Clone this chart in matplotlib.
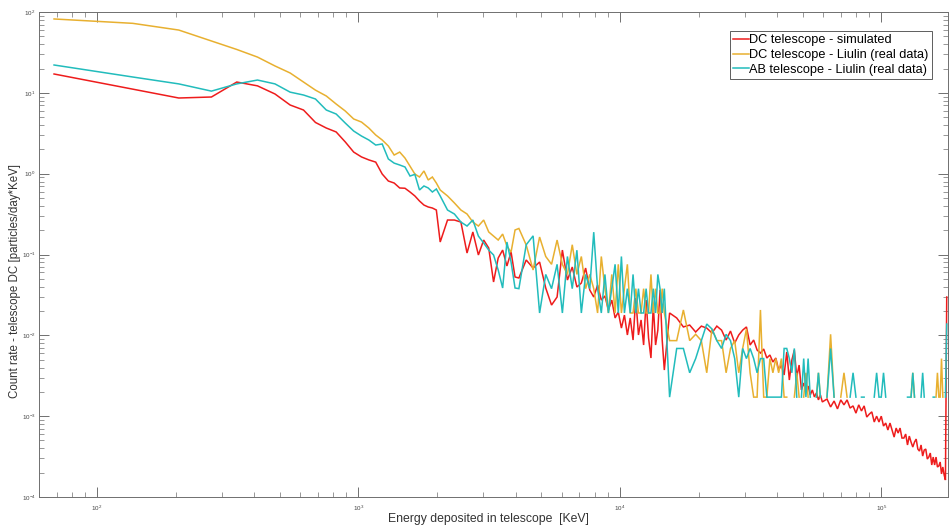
import numpy as np
import matplotlib
matplotlib.use("Agg")
import matplotlib.pyplot as plt
from matplotlib.ticker import LogLocator, NullFormatter, FixedLocator

plt.rcParams['font.family'] = ['Liberation Sans', 'DejaVu Sans']

# ---------------------------------------------------------------------------
# Energy channels [keV]
# ---------------------------------------------------------------------------
energy_low = [68.5, 137, 205.5, 274, 342.5, 411, 479.5, 548, 616.5, 685,
              753.5, 822, 890.5, 959, 1027.5, 1096, 1164.5, 1233, 1301.5,
              1370, 1438.5, 1507, 1575.5, 1644, 1712.5, 1781, 1849.5, 1918,
              1986.5]
energy_mid1 = [2055, 2192, 2329, 2466, 2603, 2740, 2877, 3014, 3151, 3288,
               3425, 3562, 3699, 3836, 3973]
energy_mid2 = [4110, 4384, 4658, 4932, 5206, 5480, 5754, 6028, 6302, 6576,
               6850, 7124, 7398, 7672, 7946]
energy_mid3 = [8220, 8494, 8768, 9042, 9316, 9590, 9864, 10138, 10412, 10686,
               10960, 11234, 11508, 11782, 12056, 12330, 12604, 12878, 13152,
               13426, 13700, 13974, 14248, 14522, 14796]
energy_high1 = [15500, 16500, 17500, 18500, 19500, 20500, 21500, 22500, 23500,
                24500, 25500, 26500, 27500, 28500, 29500, 30500, 31500, 32500,
                33500, 34500, 35500, 36500, 37500, 38500, 39500, 40500, 41500,
                42500, 43500, 44500, 45500, 46500, 47500, 48500, 49500, 50500,
                51500, 52500, 53500, 54500, 55500, 56500, 57500, 58500, 59500]
energy_high2 = [62000, 64000, 66000, 68000, 70000, 72000, 74000, 76000, 78000,
                80000, 82000, 84000, 86000, 88000, 90000, 92000, 94000, 96000,
                98000, 100000, 102000, 104000, 106000, 108000, 110000, 112000,
                114000, 116000, 118000, 120000, 122000, 124000, 126000, 128000,
                130000, 132000, 134000, 136000, 138000, 140000, 142000, 144000,
                146000, 148000, 150000, 152000, 154000, 156000, 158000, 160000,
                162000, 164000, 166000, 168000, 170000, 172000, 174000, 176000,
                178000]

# ---------------------------------------------------------------------------
# DC telescope - simulated  [particles/day*keV]
# ---------------------------------------------------------------------------
dc_sim_low = [17.1, 11.1, 8.63, 8.88, 13.6, 12.2, 9.68, 7.07, 6.13, 4.3, 3.67,
              3.28, 2.47, 1.85, 1.61, 1.48, 1.39, 0.99, 0.811, 0.766, 0.665,
              0.66, 0.593, 0.530, 0.459, 0.409, 0.387, 0.376, 0.355]
dc_sim_mid1 = [0.1427, 0.267, 0.267, 0.252, 0.1043, 0.190, 0.0986, 0.151,
               0.1203, 0.0457, 0.0905, 0.1135, 0.0721, 0.1074, 0.0527]
dc_sim_mid2 = [0.0512, 0.0855, 0.068, 0.0807, 0.0385, 0.0237, 0.0298, 0.1135,
               0.0483, 0.070, 0.0396, 0.0444, 0.068, 0.0364, 0.0298]
dc_sim_mid3 = [0.0419, 0.0273, 0.0307, 0.0206, 0.0273, 0.0164, 0.0194, 0.0123,
               0.0178, 0.0101, 0.0164, 0.00875, 0.0290, 0.0101, 0.0155,
               0.00759, 0.0273, 0.00927, 0.00524, 0.0237, 0.00759, 0.0116,
               0.0364, 0.00875, 0.00372]
dc_sim_high1 = [0.0189, 0.0164, 0.0127, 0.0134, 0.0110, 0.0130, 0.0123, 0.0107,
                0.0130, 0.0116, 0.00875, 0.0113, 0.00803, 0.0101, 0.0116,
                0.0127, 0.00759, 0.00875, 0.00658, 0.00604, 0.00677, 0.00524,
                0.00571, 0.00468, 0.00524, 0.00372, 0.00429, 0.00323, 0.00622,
                0.00280, 0.00495, 0.00658, 0.00305, 0.00429, 0.00211, 0.00257,
                0.00205, 0.00236, 0.00183, 0.00211, 0.00173, 0.00194, 0.00159,
                0.00183, 0.00150]
dc_sim_high2 = [0.00163, 0.00130, 0.00154, 0.00123, 0.00159, 0.00138, 0.00159,
                0.00126, 0.00134, 0.00109, 0.00138, 0.00116, 0.00134, 0.000976,
                0.00106, 0.00113, 0.000847, 0.00100, 0.000847, 0.00100,
                0.000755, 0.000822, 0.000674, 0.000822, 0.000674, 0.000551,
                0.000713, 0.000618, 0.000713, 0.000536, 0.000536, 0.000601,
                0.000440, 0.000567, 0.000478, 0.000415, 0.000478, 0.000521,
                0.000392, 0.000370, 0.000440, 0.000321, 0.000381, 0.000392,
                0.000295, 0.000312, 0.000350, 0.000249, 0.000312, 0.000249,
                0.000312, 0.000235, 0.000242, 0.000271, 0.000193, 0.000235,
                0.000187, 0.000162, 0.0298]

# ---------------------------------------------------------------------------
# DC telescope - Liulin (real data); 0 = no counts in the channel
# ---------------------------------------------------------------------------
dc_liulin_low = [82, 72.4, 59.8, 43.8, 34.4, 27.7, 21.5, 17.6, 13.6, 10.8,
                 9.14, 7.27, 5.96, 4.75, 4.35, 3.67, 3.01, 2.61, 2.20, 1.70,
                 1.85, 1.56, 1.24, 0.99, 0.909, 1.08, 0.835, 0.909, 0.766]
dc_liulin_mid1 = [0.628, 0.530, 0.434, 0.355, 0.317, 0.252, 0.225, 0.267,
                  0.190, 0.169, 0.151, 0.179, 0.127, 0.107, 0.201]
dc_liulin_mid2 = [0.21, 0.131, 0.0643, 0.1645, 0.0945, 0.0756, 0.151, 0.0756,
                  0.0567, 0.132, 0.0567, 0.0945, 0.0378, 0.0567, 0.0378]
dc_liulin_mid3 = [0.0189, 0.0945, 0.0378, 0.0189, 0.0567, 0.0189, 0.0756,
                  0.0189, 0.0378, 0.0756, 0.0189, 0.0189, 0.0378, 0.0189,
                  0.0189, 0.0378, 0.0189, 0.0189, 0.0567, 0.0189, 0.0378,
                  0.0189, 0.0189, 0.0378, 0.0189]
dc_liulin_high1 = [0.0086, 0.0086, 0.0206, 0.0086, 0.0103, 0.0086, 0.00344,
                   0.0120, 0.0086, 0.0086, 0.00344, 0.00688, 0.0086, 0.00344,
                   0.00688, 0.0120, 0.00344, 0.00172, 0.00172, 0.0206, 0.00172,
                   0.00172, 0.00516, 0.00344, 0.00516, 0.00344, 0.00516,
                   0.00172, 0.00172, 0, 0, 0.00172, 0.00344, 0.00172, 0,
                   0.00172, 0.00344, 0.00172, 0, 0, 0, 0.00172, 0.00344,
                   0.00172, 0]
dc_liulin_high2 = [0.00172, 0.0103, 0.00172, 0, 0.00172, 0.00344, 0.00172, 0,
                   0, 0, 0, 0, 0, 0, 0, 0, 0, 0, 0, 0, 0, 0, 0, 0, 0, 0, 0, 0,
                   0, 0, 0, 0, 0, 0, 0.00172, 0.00344, 0.00172, 0, 0, 0, 0, 0,
                   0, 0, 0, 0, 0, 0, 0, 0, 0.00172, 0.00344, 0.00172, 0.00172,
                   0.00516, 0.00172, 0, 0, 0]

# ---------------------------------------------------------------------------
# AB telescope - Liulin (real data); 0 = no counts in the channel
# ---------------------------------------------------------------------------
ab_liulin_low = [22.1, 15.7, 12.9, 10.5, 12.9, 14.4, 12.9, 10.2, 9.40, 8.39,
                 6.13, 5.47, 4.23, 3.37, 2.92, 2.61, 2.26, 2.33, 1.52, 1.35,
                 1.28, 1.21, 0.935, 0.980, 0.628, 0.704, 0.665, 0.593, 0.646]
ab_liulin_mid1 = [0.530, 0.355, 0.317, 0.252, 0.225, 0.267, 0.169, 0.1387,
                  0.1135, 0.0986, 0.0643, 0.0385, 0.1427, 0.0807, 0.0385]
ab_liulin_mid2 = [0.0378, 0.132, 0.170, 0.0189, 0.0567, 0.0378, 0.0756, 0.0189,
                  0.0945, 0.0378, 0.113, 0.0189, 0.0567, 0.0378, 0.189]
ab_liulin_mid3 = [0.0378, 0.0189, 0.0567, 0.0189, 0.0378, 0.0756, 0.0189,
                  0.0945, 0.0189, 0.0378, 0.0189, 0.0567, 0.0189, 0.0378,
                  0.0189, 0.0189, 0.0378, 0.0189, 0.0189, 0.0378, 0.0189,
                  0.0567, 0.0378, 0.0189, 0.0378]
ab_liulin_high1 = [0.00172, 0.00688, 0.00688, 0.00344, 0.00516, 0.0086, 0.0138,
                   0.0120, 0.0086, 0.00688, 0.0103, 0.0086, 0.00516, 0.00172,
                   0.00688, 0.00516, 0.00688, 0.00516, 0.00344, 0.00516,
                   0.00516, 0.00172, 0.00172, 0.00172, 0.00172, 0.00172,
                   0.00172, 0.00688, 0.00688, 0.00516, 0.00344, 0.00688,
                   0.00172, 0, 0.00172, 0.00516, 0.00172, 0.00516, 0.00172, 0,
                   0, 0.00172, 0.00344, 0.00172, 0]
ab_liulin_high2 = [0.00172, 0.00688, 0.00172, 0, 0, 0, 0, 0.00172, 0.00344,
                   0.00172, 0, 0.00172, 0.00172, 0, 0, 0, 0.00172, 0.00344,
                   0.00172, 0.00172, 0.00344, 0.00172, 0, 0, 0, 0, 0, 0, 0, 0,
                   0, 0, 0.00172, 0.00172, 0.00172, 0.00344, 0.00172, 0, 0, 0,
                   0.00172, 0.00344, 0.00172, 0, 0, 0, 0, 0, 0.00172, 0.00172,
                   0, 0, 0, 0, 0, 0, 0, 0.00172, 0.0138]

legend_labels = ["DC telescope - simulated",
                 "DC telescope - Liulin (real data)",
                 "AB telescope - Liulin (real data)"]
colors = ["#ee1c1c", "#e8b030", "#22bcbc"]

x_decades = [1e2, 1e3, 1e4, 1e5]
y_decades = [1e-4, 1e-3, 1e-2, 1e-1, 1e0, 1e1, 1e2]


def spectrum(*parts):
    """Join channel blocks; empty channels become gaps on the log axis."""
    arr = np.concatenate([np.asarray(p, dtype=float) for p in parts])
    arr[arr <= 0] = np.nan
    return arr


energy = spectrum(energy_low, energy_mid1, energy_mid2, energy_mid3,
                  energy_high1, energy_high2)
series = [
    spectrum(dc_sim_low, dc_sim_mid1, dc_sim_mid2, dc_sim_mid3,
             dc_sim_high1, dc_sim_high2),
    spectrum(dc_liulin_low, dc_liulin_mid1, dc_liulin_mid2, dc_liulin_mid3,
             dc_liulin_high1, dc_liulin_high2),
    spectrum(ab_liulin_low, ab_liulin_mid1, ab_liulin_mid2, ab_liulin_mid3,
             ab_liulin_high1, ab_liulin_high2),
]

fig = plt.figure(figsize=(9.49, 5.29), dpi=100)
ax = fig.add_axes([39 / 949, 32 / 529, 909 / 949, 485 / 529])

for y, c, lab in zip(series, colors, legend_labels):
    ax.plot(energy, y, color=c, lw=1.1, label=lab, solid_joinstyle='miter')

ax.set_xscale('log')
ax.set_yscale('log')
ax.set_xlim(60, 1.8e5)
ax.set_ylim(1e-4, 1e2)

ax.xaxis.set_major_locator(FixedLocator(x_decades))
ax.yaxis.set_major_locator(FixedLocator(y_decades))
ax.xaxis.set_minor_locator(LogLocator(base=10, subs=np.arange(2, 10), numticks=50))
ax.yaxis.set_minor_locator(LogLocator(base=10, subs=np.arange(2, 10), numticks=50))
ax.xaxis.set_minor_formatter(NullFormatter())
ax.yaxis.set_minor_formatter(NullFormatter())

spine_col = '#6f6f6f'
for s in ax.spines.values():
    s.set_color(spine_col)
    s.set_linewidth(0.7)
ax.tick_params(which='both', direction='in', top=True, right=True,
               color=spine_col, labelcolor='#444444', labelsize=4.5)
ax.tick_params(which='major', length=7, width=0.7)
ax.tick_params(which='minor', length=3.5, width=0.5)
ax.tick_params(axis='x', which='major', pad=5)
ax.tick_params(axis='y', which='major', pad=2.5)

ax.set_xlabel("Energy deposited in telescope  [KeV]", fontsize=8.8,
              color='#333333')
ax.set_ylabel("Count rate - telescope DC [particles/day*KeV]", fontsize=8.3,
              color='#333333')
ax.xaxis.set_label_coords(0.494, -0.034)
ax.yaxis.set_label_coords(-0.0195, 0.445)

leg = ax.legend(loc='upper right', bbox_to_anchor=(0.9824, 0.9608),
                fontsize=9.2, handlelength=1.2, handletextpad=0.05,
                borderpad=0.25, labelspacing=0.22, borderaxespad=0,
                fancybox=False, framealpha=1)
leg.get_frame().set_edgecolor('#444444')
leg.get_frame().set_linewidth(0.6)

fig.savefig("out.png", dpi=100)
